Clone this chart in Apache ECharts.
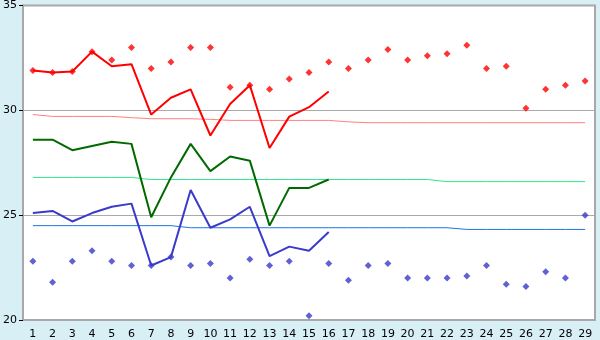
<!DOCTYPE html>
<html>
<head>
<meta charset="utf-8">
<script src="https://cdn.jsdelivr.net/npm/echarts@6/dist/echarts.min.js"></script>
<style>
  html, body { margin: 0; padding: 0; background: #d9eff6; }
  #main { width: 600px; height: 340px; }
</style>
</head>
<body>
<div id="main"></div>
<script>
// 日期
var days = ['1','2','3','4','5','6','7','8','9','10','11','12','13','14','15','16','17','18','19','20','21','22','23','24','25','26','27','28','29'];
var yTicks = [20, 25, 30, 35];

// 最高 / 平均 / 最低 (实线, 1-16)
var redLine = [31.9, 31.8, 31.85, 32.8, 32.1, 32.2, 29.8, 30.6, 31.0, 28.8, 30.3, 31.2, 28.2, 29.7, 30.15, 30.9];
var greenLine = [28.6, 28.6, 28.1, 28.3, 28.5, 28.4, 24.9, 26.8, 28.4, 27.1, 27.8, 27.6, 24.5, 26.3, 26.3, 26.7];
var blueLine = [25.1, 25.2, 24.7, 25.1, 25.4, 25.55, 22.6, 23.0, 26.2, 24.4, 24.8, 25.4, 23.05, 23.5, 23.3, 24.2];

// 散点 (1-29)
var redDots = [31.9, 31.8, 31.85, 32.8, 32.4, 33.0, 32.0, 32.3, 33.0, 33.0, 31.1, 31.2, 31.0, 31.5, 31.8, 32.3, 32.0, 32.4, 32.9, 32.4, 32.6, 32.7, 33.1, 32.0, 32.1, 30.1, 31.0, 31.2, 31.4];
var blueDots = [22.8, 21.8, 22.8, 23.3, 22.8, 22.6, 22.6, 23.0, 22.6, 22.7, 22.0, 22.9, 22.6, 22.8, 20.2, 22.7, 21.9, 22.6, 22.7, 22.0, 22.0, 22.0, 22.1, 22.6, 21.7, 21.6, 22.3, 22.0, 25.0];

// 平年值
var pinkNormal = [29.8, 29.71, 29.71, 29.71, 29.71, 29.65, 29.6, 29.6, 29.6, 29.57, 29.52, 29.52, 29.52, 29.52, 29.52, 29.52, 29.45, 29.41, 29.41, 29.41, 29.41, 29.41, 29.41, 29.41, 29.41, 29.41, 29.41, 29.41, 29.41];
var greenNormal = [26.8, 26.8, 26.8, 26.8, 26.8, 26.8, 26.7, 26.7, 26.7, 26.7, 26.7, 26.7, 26.7, 26.7, 26.7, 26.7, 26.7, 26.7, 26.7, 26.7, 26.7, 26.6, 26.6, 26.6, 26.6, 26.6, 26.6, 26.6, 26.6];
var blueNormal = [24.5, 24.5, 24.5, 24.5, 24.5, 24.5, 24.5, 24.5, 24.4, 24.4, 24.4, 24.4, 24.4, 24.4, 24.4, 24.4, 24.4, 24.4, 24.4, 24.4, 24.4, 24.4, 24.32, 24.32, 24.32, 24.32, 24.32, 24.32, 24.32];

var myChart = echarts.init(document.getElementById('main'));

function normalLine(data, color) {
    return {
        type: 'line',
        data: data,
        showSymbol: false,
        silent: true,
        lineStyle: { color: color, width: 1 },
        z: 1
    };
}

function mainLine(data, color) {
    return {
        type: 'line',
        data: data,
        showSymbol: false,
        lineStyle: { color: color, width: 2 },
        z: 4
    };
}

function dots(data, color) {
    return {
        type: 'scatter',
        data: data,
        symbol: 'diamond',
        symbolSize: 7,
        itemStyle: { color: color },
        z: 3
    };
}

option = {
    backgroundColor: '#d9eff6',
    animation: false,
    textStyle: { fontFamily: 'DejaVu Sans' },
    grid: {
        left: 20, right: 5, top: 5, bottom: 20,
        show: true,
        backgroundColor: '#ffffff',
        borderColor: '#a8a8a8',
        borderWidth: 2
    },
    xAxis: {
        type: 'category',
        data: days,
        boundaryGap: true,
        axisLine: { lineStyle: { color: '#a8a8a8', width: 2 } },
        axisTick: { alignWithLabel: true, length: 5, lineStyle: { color: '#000' } },
        axisLabel: { color: '#000', fontSize: 11, margin: 9, interval: 0 },
        splitLine: { show: false }
    },
    yAxis: {
        type: 'value',
        min: yTicks[0],
        max: yTicks[yTicks.length - 1],
        interval: 5,
        axisLine: { show: true, lineStyle: { color: '#a8a8a8', width: 2 } },
        axisTick: { show: true, length: 4, lineStyle: { color: '#000' } },
        axisLabel: { color: '#000', fontSize: 11, margin: 6 },
        splitLine: { lineStyle: { color: '#aaaaaa', width: 1 } }
    },
    series: [
        normalLine(pinkNormal, '#ff7f7f'),
        normalLine(greenNormal, '#2de88a'),
        normalLine(blueNormal, '#1f74dd'),
        dots(redDots, '#ff0000'),
        dots(blueDots, '#3a3acc'),
        mainLine(redLine, '#ff0000'),
        mainLine(greenLine, '#006a00'),
        mainLine(blueLine, '#3a3acc')
    ]
};

myChart.setOption(option);
</script>
</body>
</html>
